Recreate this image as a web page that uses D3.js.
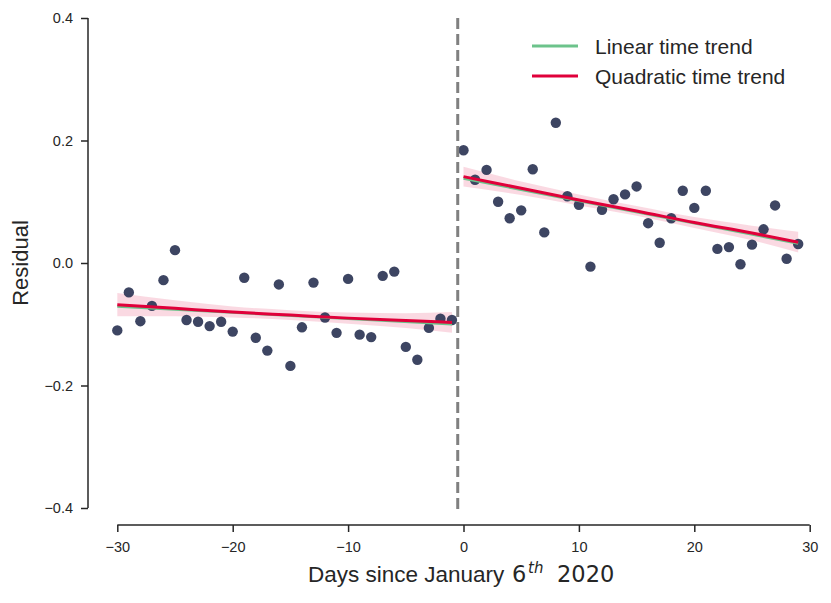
<!DOCTYPE html>
<html>
<head>
<meta charset="utf-8">
<script src="https://cdn.jsdelivr.net/npm/d3@7"></script>
<style>
  body { margin: 0; background: #fff; }
  text { font-family: "Liberation Sans", Arial, sans-serif; fill: #262626; }
</style>
</head>
<body>
<svg id="chart" width="831" height="603"></svg>
<script>
// residuals by day relative to Jan 6th
const daysBefore = [-30,-29,-28,-27,-26,-25,-24,-23,-22,-21,-20,-19,-18,-17,-16,-15,-14,-13,-12,-11,-10,-9,-8,-7,-6,-5,-4,-3,-2,-1];
const residBefore = [-0.110,-0.048,-0.095,-0.070,-0.028,0.021,-0.093,-0.096,-0.103,-0.096,-0.112,-0.024,-0.122,-0.143,-0.035,-0.168,-0.105,-0.032,-0.089,-0.114,-0.026,-0.117,-0.121,-0.021,-0.014,-0.137,-0.158,-0.106,-0.091,-0.093];
const daysAfter = [0,1,2,3,4,5,6,7,8,9,10,11,12,13,14,15,16,17,18,19,20,21,22,23,24,25,26,27,28,29];
const residAfter = [0.184,0.136,0.152,0.100,0.073,0.086,0.153,0.050,0.229,0.109,0.095,-0.006,0.087,0.104,0.112,0.125,0.065,0.033,0.073,0.118,0.090,0.118,0.023,0.026,-0.002,0.030,0.055,0.094,0.007,0.031];

// trend lines
const linDaysBefore = [-30, -1];
const linBefore = [-0.071, -0.100];
const linDaysAfter = [0, 29];
const linAfter = [0.138, 0.032];

const quadDaysBefore = [-30,-25,-20,-15,-10,-5,-1];
const quadBefore = [-0.068,-0.074,-0.080,-0.085,-0.090,-0.094,-0.097];
const bandBefore = [0.019,0.013,0.009,0.008,0.009,0.012,0.017];
const quadDaysAfter = [0,5,10,15,20,25,29];
const quadAfter = [0.141,0.122,0.103,0.085,0.066,0.049,0.034];
const bandAfter = [0.016,0.011,0.009,0.008,0.009,0.012,0.017];

const xTicks = [-30,-20,-10,0,10,20,30];
const yTicks = [-0.4,-0.2,0.0,0.2,0.4];
const cutoff = -0.5;

const svg = d3.select("#chart");
const ink = "#262626";

let x = d3.scaleLinear().domain([-30, 30]).range([117.3, 809.7]);
let y = d3.scaleLinear().domain([-0.4, 0.4]).range([508, 18]);

const fmtMinus = s => s.replace("-", "\u2212");

// y axis
let yAxis = svg.append("g")
    .attr("transform", "translate(88,0)")
    .call(d3.axisLeft(y).tickValues(yTicks).tickSize(7).tickPadding(8)
        .tickFormat(d => fmtMinus(d3.format(".1f")(d))));
// x axis
let xAxis = svg.append("g")
    .attr("transform", "translate(0,525)")
    .call(d3.axisBottom(x).tickValues(xTicks).tickSize(7).tickPadding(10)
        .tickFormat(d => fmtMinus(String(d))));

[yAxis, xAxis].forEach(g => {
    g.select(".domain").attr("stroke", ink).attr("stroke-width", 1.5);
    g.selectAll(".tick line").attr("stroke", ink).attr("stroke-width", 1.5);
    g.selectAll(".tick text").attr("font-size", 14.5).attr("fill", ink)
        .style("font-family", "'Liberation Sans', Arial, sans-serif");
});
// trim domain path ends (no outer ticks)
yAxis.select(".domain").attr("d", "M0," + y(0.4) + "V" + y(-0.4));
xAxis.select(".domain").attr("d", "M" + x(-30) + ",0H" + x(30));

// axis titles
svg.append("text")
    .attr("transform", "translate(28,263) rotate(-90)")
    .attr("text-anchor", "middle")
    .attr("font-size", 22)
    .text("Residual");

let xt = svg.append("text")
    .attr("y", 582)
    .attr("font-size", 22.5);
xt.append("tspan").attr("x", 308).text("Days since January");
xt.append("tspan").attr("x", 512).style("font-family", "'DejaVu Sans'").text("6");
xt.append("tspan").attr("x", 528).attr("dy", -9).attr("font-size", 15)
    .attr("font-style", "italic").style("font-family", "'DejaVu Sans'").text("th");
xt.append("tspan").attr("x", 557).attr("dy", 9)
    .style("font-family", "'DejaVu Sans'").text("2020");

// CI bands
let area = d3.area()
    .x(d => x(d.day))
    .y0(d => y(d.v - d.h))
    .y1(d => y(d.v + d.h))
    .curve(d3.curveMonotoneX);

const bandSets = [
    quadDaysBefore.map((d, i) => ({day: d, v: quadBefore[i], h: bandBefore[i]})),
    quadDaysAfter.map((d, i) => ({day: d, v: quadAfter[i], h: bandAfter[i]}))
];
bandSets.forEach(b => {
    svg.append("path").datum(b)
        .attr("d", area)
        .attr("fill", "#e0003a")
        .attr("fill-opacity", 0.15);
});

// points
const pts = daysBefore.map((d, i) => ({day: d, r: residBefore[i]}))
    .concat(daysAfter.map((d, i) => ({day: d, r: residAfter[i]})));
svg.append("g").selectAll("circle")
    .data(pts)
    .join("circle")
    .attr("cx", d => x(d.day))
    .attr("cy", d => y(d.r))
    .attr("r", 5.2)
    .attr("fill", "#333b5a")
    .attr("fill-opacity", 0.95);

// trend lines
let line = d3.line()
    .x(d => x(d.day))
    .y(d => y(d.v))
    .curve(d3.curveMonotoneX);

const linSets = [
    linDaysBefore.map((d, i) => ({day: d, v: linBefore[i]})),
    linDaysAfter.map((d, i) => ({day: d, v: linAfter[i]}))
];
linSets.forEach(s => {
    svg.append("path").datum(s)
        .attr("d", line)
        .attr("fill", "none")
        .attr("stroke", "#6cc38b")
        .attr("stroke-width", 2.5);
});
bandSets.forEach(s => {
    svg.append("path").datum(s)
        .attr("d", line)
        .attr("fill", "none")
        .attr("stroke", "#e0003a")
        .attr("stroke-width", 3);
});

// cutoff
svg.append("line")
    .attr("x1", x(cutoff)).attr("x2", x(cutoff))
    .attr("y1", 18).attr("y2", 512)
    .attr("stroke", "#808080")
    .attr("stroke-width", 3)
    .attr("stroke-dasharray", "11,5");

// legend
const legendItems = [
    {label: "Linear time trend", color: "#6cc38b"},
    {label: "Quadratic time trend", color: "#e0003a"}
];
let legend = svg.append("g").attr("transform", "translate(532,46)");
legendItems.forEach((it, i) => {
    let g = legend.append("g").attr("transform", "translate(0," + (i * 30) + ")");
    g.append("line").attr("x1", 0).attr("x2", 46)
        .attr("stroke", it.color).attr("stroke-width", 3);
    g.append("text").attr("x", 63).attr("y", 7.5)
        .attr("font-size", 21).text(it.label);
});
</script>
</body>
</html>
